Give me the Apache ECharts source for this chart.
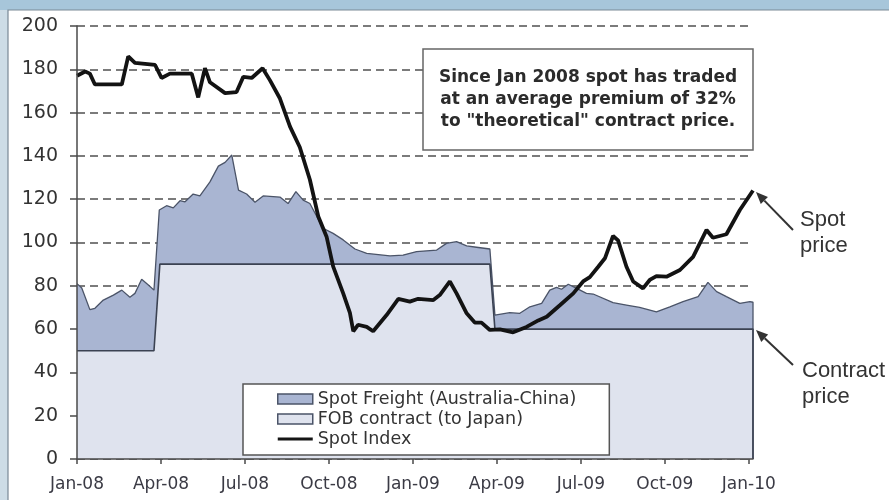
<!DOCTYPE html>
<html>
<head>
<meta charset="utf-8">
<script src="https://cdn.jsdelivr.net/npm/echarts@6/dist/echarts.min.js"></script>
<style>
html, body { margin: 0; padding: 0; }
#chart { width: 889px; height: 500px; }
</style>
</head>
<body>
<div id="chart"></div>
<script>
// x values are months since Jan-08
var xLabels = ['Jan-08', 'Apr-08', 'Jul-08', 'Oct-08', 'Jan-09', 'Apr-09', 'Jul-09', 'Oct-09', 'Jan-10'];
var yTicks = [0, 20, 40, 60, 80, 100, 120, 140, 160, 180, 200];

// Spot Index
var spotMonths = [0, 0.29, 0.46, 0.64, 1.6, 1.83, 2.07, 2.79, 3.02, 3.32, 4.1, 4.33, 4.57, 4.75, 5.29, 5.7, 5.94, 6.24, 6.63, 6.89,
	7.25, 7.61, 7.96, 8.32, 8.62, 8.92, 9.15, 9.51, 9.75, 9.87, 10.04, 10.35, 10.58, 11.06, 11.48, 11.89, 12.19, 12.73, 12.96, 13.32,
	13.56, 13.92, 14.21, 14.45, 14.75, 15.11, 15.58, 16.06, 16.48, 16.78, 17.25, 17.73, 18.08, 18.32, 18.62, 18.86, 19.15, 19.33, 19.63, 19.87,
	20.22, 20.46, 20.7, 21.06, 21.54, 22.01, 22.49, 22.72, 23.2, 23.68, 24.15];
var spotIndex = [177, 179, 178, 173, 173, 186, 183, 182, 176, 178, 178, 167, 180.5, 174, 169, 169.5, 176.5, 176, 180.5, 175,
	166.5, 153.5, 144, 129, 112, 102.5, 89, 76.5, 67.5, 59, 62, 61, 59, 66.5, 74, 72.7, 74, 73.4, 75.7, 82,
	76.5, 67.3, 63, 63, 59.6, 59.9, 58.5, 61, 64, 65.7, 71, 76.5, 82, 84, 88.8, 92.7, 103, 101, 88.8, 82,
	78.8, 82.7, 84.5, 84.2, 87.3, 93.4, 105.8, 102.2, 103.8, 115, 124];

// Spot Freight (top edge of the darker area = contract + freight)
var freightMonths = [0, 0.17, 0.46, 0.64, 0.94, 1.3, 1.6, 1.89, 2.07, 2.31, 2.55, 2.75, 2.94, 3.2, 3.44, 3.68, 3.86, 4.15, 4.39, 4.75,
	5.05, 5.29, 5.53, 5.77, 6.06, 6.36, 6.65, 7.25, 7.54, 7.82, 8.08, 8.32, 8.79, 9.15, 9.51, 9.93, 10.35, 11.18, 11.65, 12.13,
	12.85, 13.2, 13.56, 13.92, 14.27, 14.75, 14.93, 15.46, 15.82, 16.18, 16.6, 16.89, 17.13, 17.31, 17.55, 17.85, 18.2, 18.44, 19.15, 19.63,
	20.1, 20.7, 21.18, 21.65, 22.19, 22.54, 22.85, 23.2, 23.68, 24.04, 24.15];
var freightTop = [81, 79, 69, 69.6, 73.4, 75.7, 78, 74.7, 76.5, 83, 80.4, 78, 115, 117, 116, 119.3, 118.8, 122.4, 121.5, 128,
	135.3, 137, 140.4, 124.2, 122.4, 118.6, 121.5, 121, 118, 123.5, 119.6, 118, 106.6, 104.2, 101.2, 97, 95, 93.8, 94.2, 95.8,
	96.5, 99.6, 100.4, 98.4, 97.8, 97, 66.5, 67.6, 67.3, 70.3, 71.9, 78, 79.3, 78.4, 80.7, 78.8, 76.5, 76.2, 72.2, 71.1,
	70, 68, 70.3, 72.7, 75, 81.6, 77.3, 75, 71.9, 72.7, 72.4];

// FOB contract
var contractMonths = [0, 2.75, 2.96, 14.75, 14.93, 24.15];
var contractPrice = [50, 50, 90, 90, 60, 60];

var noteLines = ['Since Jan 2008 spot has traded', 'at an average premium of 32%', 'to "theoretical" contract price.'];

var X_MAX = 24.15;
var freightColor = '#a9b5d2', contractColor = '#dfe3ee';

function pairs(xs, ys) {
	var out = [];
	for (var i = 0; i < xs.length; i++) out.push([xs[i], ys[i]]);
	return out;
}

// arrow = line + small filled head
function arrow(x1, y1, x2, y2) {
	var dx = x2 - x1, dy = y2 - y1, len = Math.sqrt(dx * dx + dy * dy);
	var ux = dx / len, uy = dy / len, hl = 12, hw = 5;
	var bx = x2 - ux * hl, by = y2 - uy * hl;
	return [{
		type : 'line', z : 100,
		shape : { x1 : x1, y1 : y1, x2 : bx, y2 : by },
		style : { stroke : '#333', lineWidth : 2 }
	}, {
		type : 'polygon', z : 100,
		shape : { points : [ [ x2, y2 ], [ bx - uy * hw, by + ux * hw ], [ bx + uy * hw, by - ux * hw ] ] },
		style : { fill : '#333' }
	}];
}

var tickVals = xLabels.map(function(l, i) { return i * 3; });

var chart = echarts.init(document.getElementById('chart'));

var hidden = { axisLine : { show : false }, axisTick : { show : false }, axisLabel : { show : false } };

chart.setOption({
	backgroundColor : '#a7c6da',
	animation : false,
	grid : { left : 77, right : 136, top : 26, bottom : 41 },
	xAxis : [ echarts.util.merge({
		type : 'value', min : 0, max : X_MAX, interval : 3,
		splitLine : { show : false }
	}, hidden), {
		type : 'value', min : 0, max : X_MAX, interval : 3, position : 'bottom', z : 10,
		axisLine : { lineStyle : { color : '#4a4a4a', width : 1.5 } },
		axisTick : { customValues : tickVals, length : 5, lineStyle : { color : '#4a4a4a', width : 1.5 } },
		axisLabel : {
			customValues : tickVals, margin : 17,
			fontFamily : 'DejaVu Sans', fontSize : 17, color : '#3a3a44',
			formatter : function(v) { return xLabels[Math.round(v / 3)]; }
		},
		splitLine : { show : false }
	} ],
	yAxis : [ echarts.util.merge({
		type : 'value', min : 0, max : 200, interval : 20,
		splitLine : { show : true, lineStyle : { type : [ 8, 5 ], color : '#505050', width : 1.6 } }
	}, hidden), {
		type : 'value', min : 0, max : 200, interval : 20, position : 'left', z : 10,
		axisLine : { show : true, lineStyle : { color : '#4a4a4a', width : 1.5 } },
		axisTick : { show : true, length : 7, lineStyle : { color : '#4a4a4a', width : 1.5 } },
		axisLabel : { margin : 19, fontFamily : 'DejaVu Sans', fontSize : 19, color : '#333' },
		splitLine : { show : false }
	} ],
	legend : {
		orient : 'vertical', left : 243, top : 384,
		padding : [ 6, 33, 7, 34 ], itemGap : 2, itemWidth : 35, itemHeight : 10,
		backgroundColor : '#fff', borderColor : '#555', borderWidth : 1.5,
		selectedMode : false,
		textStyle : { fontFamily : 'DejaVu Sans', fontSize : 17.5, color : '#333' },
		data : [ {
			name : 'Spot Freight (Australia-China)', icon : 'rect',
			itemStyle : { color : freightColor, borderColor : '#4b5468', borderWidth : 1.5 }
		}, {
			name : 'FOB contract (to Japan)', icon : 'rect',
			itemStyle : { color : contractColor, borderColor : '#4b5468', borderWidth : 1.5 }
		}, {
			name : 'Spot Index', icon : 'path://M0,0L35,0L35,3.2L0,3.2Z',
			itemStyle : { color : '#151515' }
		} ]
	},
	series : [ {
		name : 'Spot Freight (Australia-China)', type : 'line', symbol : 'none',
		// last point closes the area's right edge down to the axis
		data : pairs(freightMonths, freightTop).concat([ [ X_MAX, 0 ] ]),
		itemStyle : { color : freightColor },
		lineStyle : { color : '#4b5468', width : 1.3 },
		areaStyle : { color : freightColor, opacity : 1 }
	}, {
		name : 'FOB contract (to Japan)', type : 'line', symbol : 'none',
		data : pairs(contractMonths, contractPrice).concat([ [ X_MAX, 0 ] ]),
		itemStyle : { color : contractColor },
		lineStyle : { color : '#3b4252', width : 1.6 },
		areaStyle : { color : contractColor, opacity : 1 }
	}, {
		name : 'Spot Index', type : 'line', symbol : 'none',
		data : pairs(spotMonths, spotIndex),
		itemStyle : { color : '#151515' },
		lineStyle : { color : '#131313', width : 3.8 }
	} ],
	graphic : [ {
		type : 'rect', z : -11, shape : { x : 0, y : 10, width : 8, height : 490 },
		style : { fill : '#cddce6' }
	}, {
		type : 'rect', z : -10, shape : { x : 8, y : 10, width : 882, height : 491 },
		style : { fill : '#fff', stroke : '#7a8996', lineWidth : 1.2 }
	}, {
		type : 'rect', z : 100, shape : { x : 423, y : 49, width : 330, height : 101 },
		style : { fill : '#fff', stroke : '#666', lineWidth : 1.5 }
	}, {
		type : 'text', z : 101, x : 588, y : 100,
		style : {
			text : noteLines.join('\n'), align : 'center', verticalAlign : 'middle',
			fontFamily : 'DejaVu Sans', fontWeight : 'bold', fontSize : 17, lineHeight : 22, fill : '#2b2b2b'
		}
	}, {
		type : 'text', z : 101, x : 800, y : 233,
		style : { text : 'Spot\nprice', verticalAlign : 'middle', fontFamily : 'Liberation Sans', fontSize : 22, lineHeight : 26, fill : '#333' }
	}, {
		type : 'text', z : 101, x : 802, y : 384,
		style : { text : 'Contract\nprice', verticalAlign : 'middle', fontFamily : 'Liberation Sans', fontSize : 22, lineHeight : 26, fill : '#333' }
	} ].concat(arrow(793, 230, 756, 192), arrow(793, 365, 756, 330))
});
</script>
</body>
</html>
